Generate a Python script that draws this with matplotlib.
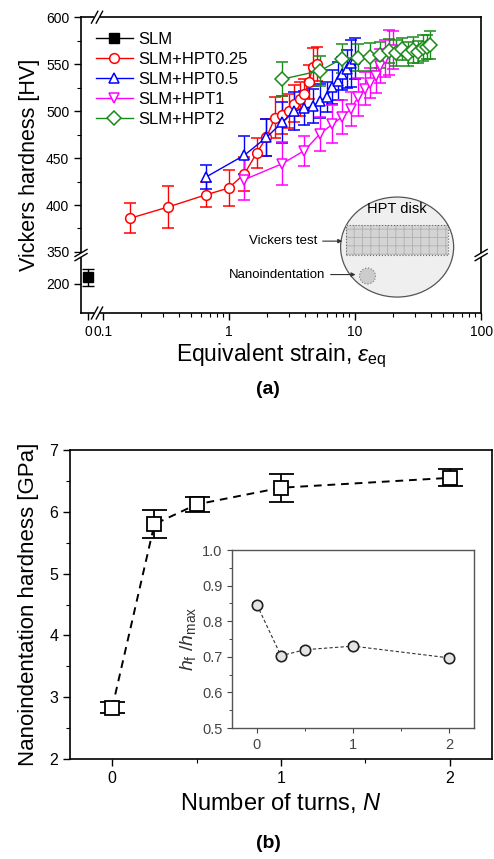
#!/usr/bin/env python3

import matplotlib
matplotlib.use("Agg")
import matplotlib.pyplot as plt
import numpy as np
from matplotlib.patches import Ellipse, Rectangle
from matplotlib.ticker import FixedLocator, NullFormatter, FixedFormatter

plt.rcParams.update(
    {
        "font.family": ["Liberation Sans", "DejaVu Sans"],
        "mathtext.fontset": "custom",
        "mathtext.rm": "Liberation Sans",
        "mathtext.it": "Liberation Sans:italic",
        "axes.linewidth": 1.2,
        "xtick.direction": "out",
        "ytick.direction": "out",
        "hatch.linewidth": 0.6,
    }
)

# ---- panel (a): Vickers hardness vs equivalent strain ----
SLM_X = [0.0]
SLM_Y = [207]
SLM_ERR = [9]

HPT025_X = [0.165, 0.33, 0.66, 0.99, 1.32, 1.65, 1.98, 2.31, 2.64, 2.97, 3.30, 3.63, 3.96, 4.29, 4.62, 4.95]
HPT025_Y = [386, 398, 411, 418, 433, 455, 472, 493, 496, 500, 508, 513, 518, 531, 547, 550]
HPT025_ERR = [16, 22, 13, 19, 18, 16, 20, 22, 20, 18, 20, 18, 16, 18, 20, 18]

HPT05_X = [0.66, 1.32, 1.98, 2.64, 3.30, 3.96, 4.62, 5.28, 5.94, 6.60, 7.26, 7.92, 8.58, 9.24, 9.90]
HPT05_Y = [430, 453, 472, 488, 500, 503, 505, 511, 515, 526, 532, 540, 545, 551, 556]
HPT05_ERR = [13, 20, 20, 22, 20, 18, 18, 18, 16, 18, 20, 18, 20, 25, 22]

HPT1_X = [1.32, 2.64, 3.96, 5.28, 6.60, 7.92, 9.24, 10.56, 11.88, 13.2, 14.52, 15.84, 17.16, 18.48, 19.80]
HPT1_Y = [427, 444, 458, 476, 486, 494, 502, 515, 524, 530, 537, 548, 556, 562, 565]
HPT1_ERR = [22, 23, 16, 18, 20, 18, 18, 20, 18, 16, 18, 18, 20, 24, 20]

HPT2_X = [2.64, 5.28, 7.92, 10.56, 13.2, 15.84, 18.48, 21.12, 23.76, 26.4, 29.04, 31.68, 34.32, 36.96, 39.6]
HPT2_Y = [534, 543, 556, 557, 558, 560, 564, 562, 566, 561, 565, 563, 567, 568, 570]
HPT2_ERR = [18, 16, 15, 14, 15, 14, 13, 14, 12, 13, 14, 12, 14, 13, 15]

SERIES = [
    ("SLM+HPT0.25", HPT025_X, HPT025_Y, HPT025_ERR, "#ff0000", "o"),
    ("SLM+HPT0.5", HPT05_X, HPT05_Y, HPT05_ERR, "#0000ff", "^"),
    ("SLM+HPT1", HPT1_X, HPT1_Y, HPT1_ERR, "#ff00ff", "v"),
    ("SLM+HPT2", HPT2_X, HPT2_Y, HPT2_ERR, "#1a8a1a", "D"),
]

A_XTICKS = [0, 0.1, 1, 10, 100]
A_XTICKLABELS = ["0", "0.1", "1", "10", "100"]
A_YTICKS = [200, 350, 400, 450, 500, 550, 600]

# ---- panel (b): nanoindentation hardness vs number of turns ----
TURNS = [0, 0.25, 0.5, 1, 2]
NANO_H = [2.83, 5.80, 6.12, 6.39, 6.55]
NANO_ERR = [0.09, 0.23, 0.12, 0.23, 0.14]
HF_HMAX = [0.846, 0.703, 0.720, 0.730, 0.697]
HF_ERR = [0.006, 0.006, 0.006, 0.006, 0.006]


# broken axes: piecewise scales
def fwd_x(x):
    x = np.asarray(x, dtype=float)
    return np.where(x >= 0.1, np.log10(np.clip(x, 0.1, None)), -1.119 + 1.19 * x)


def inv_x(t):
    t = np.asarray(t, dtype=float)
    return np.where(t >= -1, np.power(10.0, np.clip(t, -1, 12)), (t + 1.119) / 1.19)


def fwd_y(y):
    y = np.asarray(y, dtype=float)
    return np.where(y >= 350, y, np.where(y <= 230, y + 116, 346 + (y - 230) * 4 / 120))


def inv_y(t):
    t = np.asarray(t, dtype=float)
    return np.where(t >= 350, t, np.where(t <= 346, t - 116, 230 + (t - 346) * 120 / 4))


def break_mark(ax, xf, yf, vertical):
    # white gap + "//" across a spine, in axes fraction
    kw = dict(transform=ax.transAxes, clip_on=False, color="black", lw=1.0, zorder=10)
    if vertical:
        ax.add_patch(Rectangle((xf - 0.01, yf - 0.008), 0.02, 0.016, transform=ax.transAxes,
                               facecolor="white", edgecolor="none", clip_on=False, zorder=9))
        for dy in (-0.007, 0.007):
            ax.plot([xf - 0.015, xf + 0.015], [yf + dy - 0.012, yf + dy + 0.012], **kw)
    else:
        ax.add_patch(Rectangle((xf - 0.008, yf - 0.01), 0.016, 0.02, transform=ax.transAxes,
                               facecolor="white", edgecolor="none", clip_on=False, zorder=9))
        for dx in (-0.006, 0.006):
            ax.plot([xf + dx - 0.008, xf + dx + 0.008], [yf - 0.02, yf + 0.02], **kw)


fig = plt.figure(figsize=(4.94, 8.59), dpi=100)

# ===== (a) =====
ax = fig.add_axes([0.164, 0.6356, 0.810, 0.3444])
ax.set_xscale("function", functions=(fwd_x, inv_x))
ax.set_yscale("function", functions=(fwd_y, inv_y))

handles = []
eb = ax.errorbar(SLM_X, SLM_Y, yerr=SLM_ERR, color="black", marker="s", ms=7, mfc="black",
                 capsize=4, elinewidth=1.0, capthick=1.0, lw=1.0, label="SLM")
handles.append(eb[0])
for name, xs, ys, es, col, mk in SERIES:
    eb = ax.errorbar(xs, ys, yerr=es, color=col, marker=mk, ms=7, mfc="white", mec=col, mew=1.1,
                     capsize=4, elinewidth=1.0, capthick=1.0, lw=1.0, label=name)
    handles.append(eb[0])

ax.set_xlim(-0.047, 100)
ax.set_ylim(169, 600)
ax.xaxis.set_major_locator(FixedLocator(A_XTICKS))
ax.xaxis.set_major_formatter(FixedFormatter(A_XTICKLABELS))
minor_x = [m * d for d in (0.1, 1, 10) for m in range(2, 10)]
ax.xaxis.set_minor_locator(FixedLocator(minor_x))
ax.xaxis.set_minor_formatter(NullFormatter())
ax.yaxis.set_major_locator(FixedLocator(A_YTICKS))
ax.yaxis.set_minor_locator(FixedLocator([375, 425, 475, 525, 575]))
ax.yaxis.set_minor_formatter(NullFormatter())
ax.tick_params(which="major", length=5, width=1.0, labelsize=10, top=False, right=False)
ax.tick_params(which="minor", length=3, width=0.8, top=False, right=False)

ax.set_xlabel(r"Equivalent strain, $\varepsilon_{\mathrm{eq}}$", fontsize=16.5, labelpad=2)
ax.set_ylabel("Vickers hardness [HV]", fontsize=15.5, labelpad=4)

ax.legend(handles=handles, labels=["SLM"] + [s[0] for s in SERIES], loc="upper left",
          bbox_to_anchor=(0.0, 1.0), frameon=False, fontsize=12, handlelength=2.2,
          handletextpad=0.35, labelspacing=0.3, borderpad=0.4)

# axis breaks
yb = (313 - 255) / 296
break_mark(ax, 0.0, yb, True)
break_mark(ax, 1.0, yb, True)
break_mark(ax, 0.04, 0.0, False)
break_mark(ax, 0.04, 1.0, False)

# HPT disk sketch
ax.add_patch(Ellipse((0.79, 0.223), 0.2825, 0.338, transform=ax.transAxes,
                     facecolor="#efefef", edgecolor="#555555", lw=0.9, zorder=1))
ax.add_patch(Rectangle((0.662, 0.196), 0.254, 0.101, transform=ax.transAxes, facecolor="#d4d4d4",
                       edgecolor="none", zorder=2))
ax.add_patch(Rectangle((0.662, 0.196), 0.254, 0.101, transform=ax.transAxes, facecolor="none",
                       edgecolor="#b0b0b0", hatch="++", lw=0, zorder=2))
ax.add_patch(Rectangle((0.662, 0.196), 0.254, 0.101, transform=ax.transAxes, facecolor="none",
                       edgecolor="#666666", lw=0.8, ls=":", zorder=3))
ax.add_patch(Ellipse((0.716, 0.125), 0.04, 0.054, transform=ax.transAxes, facecolor="#cccccc",
                     edgecolor="#777777", lw=0.8, ls=":", zorder=2))
ax.text(0.79, 0.35, "HPT disk", transform=ax.transAxes, ha="center", va="center", fontsize=10.5)
ax.annotate("Vickers test", xy=(0.66, 0.243), xytext=(0.59, 0.243), xycoords="axes fraction",
            textcoords="axes fraction", ha="right", va="center", fontsize=9.5,
            arrowprops=dict(arrowstyle="-|>", color="#333333", lw=0.8, mutation_scale=6))
ax.annotate("Nanoindentation", xy=(0.693, 0.13), xytext=(0.61, 0.13), xycoords="axes fraction",
            textcoords="axes fraction", ha="right", va="center", fontsize=9.5,
            arrowprops=dict(arrowstyle="-|>", color="#333333", lw=0.8, mutation_scale=6))

fig.text(0.543, 1 - 390 / 859, "(a)", ha="center", va="center", fontsize=14, fontweight="bold")

# ===== (b) =====
bx = fig.add_axes([0.1417, 0.1164, 0.8543, 0.3597])
bx.errorbar(TURNS, NANO_H, yerr=NANO_ERR, color="black", marker="s", ms=10, mfc="white", mec="black",
            mew=1.3, ls=(0, (4, 3)), lw=1.4, capsize=9, elinewidth=1.3, capthick=1.3)
bx.set_xlim(-0.25, 2.25)
bx.set_ylim(2, 7)
bx.set_xticks([0, 1, 2])
bx.set_xticks([0.5, 1.5], minor=True)
bx.set_yticks([2, 3, 4, 5, 6, 7])
bx.set_yticks([2.5, 3.5, 4.5, 5.5, 6.5], minor=True)
bx.tick_params(which="major", length=5, width=1.0, labelsize=11.5, top=False, right=False)
bx.tick_params(which="minor", length=3, width=0.8, top=False, right=False)
bx.set_xlabel("Number of turns, $N$", fontsize=17, labelpad=4)
bx.set_ylabel("Nanoindentation hardness [GPa]", fontsize=16, labelpad=7)

ins = fig.add_axes([0.4696, 0.1525, 0.4899, 0.2072])
ins.errorbar(TURNS, HF_HMAX, yerr=HF_ERR, color="#333333", marker="o", ms=7.5, mfc="#e4e4e4",
             mec="#222222", mew=1.2, ls=(0, (3, 2)), lw=0.8, capsize=3.5, elinewidth=0.8, capthick=0.8)
ins.set_xlim(-0.26, 2.26)
ins.set_ylim(0.5, 1.0)
ins.set_xticks([0, 1, 2])
ins.set_xticks([0.5, 1.5], minor=True)
ins.set_yticks([0.5, 0.6, 0.7, 0.8, 0.9, 1.0])
ins.set_yticks([0.55, 0.65, 0.75, 0.85, 0.95], minor=True)
for sp in ins.spines.values():
    sp.set_color("#555555")
    sp.set_linewidth(1.0)
ins.tick_params(which="major", length=3.5, width=0.8, labelsize=10.5, colors="#444444", top=False, right=False)
ins.tick_params(which="minor", length=2, width=0.7, colors="#444444", top=False, right=False)
ins.set_ylabel(r"$h_\mathrm{f}$ /$h_\mathrm{max}$", fontsize=14, color="#333333", labelpad=3)

fig.text(0.543, 1 - 843 / 859, "(b)", ha="center", va="center", fontsize=14, fontweight="bold")

fig.savefig("out.png", dpi=100)
